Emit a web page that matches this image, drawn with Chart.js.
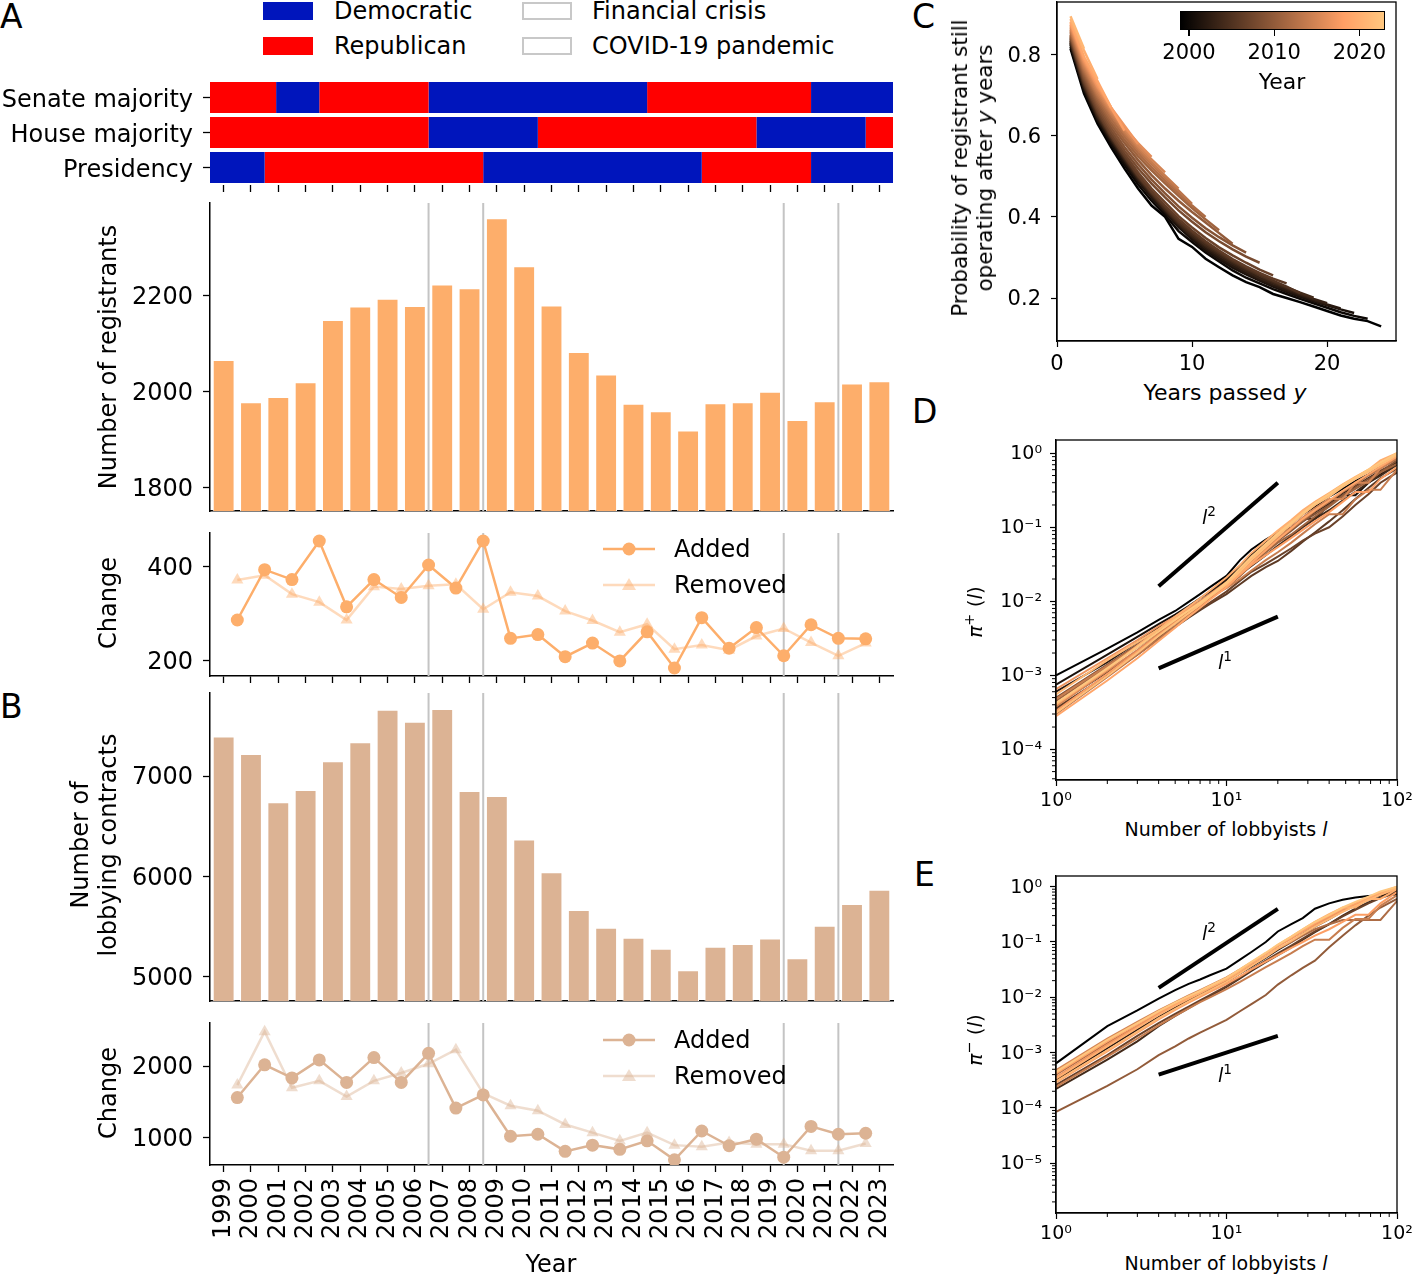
<!DOCTYPE html>
<html>
<head>
<meta charset="utf-8">
<title>Lobbying registrants and contracts</title>
<script src="https://cdn.jsdelivr.net/npm/chart.js@4.4.1/dist/chart.umd.min.js"></script>
<style>
  body { margin: 0; background: #fff; }
  #page { position: relative; width: 1412px; height: 1274px; overflow: hidden; font-family: 'DejaVu Sans', sans-serif; color: #000; }
  .plot { position: absolute; }
  .txt { position: absolute; white-space: nowrap; line-height: 1.2; transform: translate(0, -50%); }
  .ctr { position: absolute; white-space: nowrap; line-height: 1.2; transform: translate(-50%, -50%); text-align: center; }
  .vert { position: absolute; white-space: nowrap; line-height: 1.2; transform: translate(-50%, -50%) rotate(-90deg); text-align: center; }
  .letter { position: absolute; font-size: 33px; line-height: 1; }
  .patch { position: absolute; width: 50px; height: 18px; box-sizing: border-box; }
  sup { font-size: 0.72em; line-height: 0; }
</style>
</head>
<body>
<div id="page">
  <!-- panel letters -->
  <div class="letter" style="left:0;top:0">A</div>
  <div class="letter" style="left:0;top:690px">B</div>
  <div class="letter" style="left:912px;top:0">C</div>
  <div class="letter" style="left:912px;top:395px">D</div>
  <div class="letter" style="left:914px;top:858px">E</div>

  <!-- top legend -->
  <div class="patch" style="left:263px;top:2px;background:#0015bc"></div>
  <div class="patch" style="left:263px;top:37px;background:#ff0000"></div>
  <div class="patch" style="left:522px;top:2px;border:2px solid #c8c8c8"></div>
  <div class="patch" style="left:522px;top:37px;border:2px solid #c8c8c8"></div>
  <div class="txt" style="left:334px;top:11px;font-size:24px">Democratic</div>
  <div class="txt" style="left:334px;top:46px;font-size:24px">Republican</div>
  <div class="txt" style="left:592px;top:11px;font-size:24px">Financial crisis</div>
  <div class="txt" style="left:592px;top:46px;font-size:24px">COVID-19 pandemic</div>

  <!-- plot canvases -->
  <div class="plot" style="left:0;top:76px;width:900px;height:129px"><canvas id="majority"></canvas></div>
  <div class="plot" style="left:0;top:199px;width:900px;height:322px"><canvas id="registrants"></canvas></div>
  <div class="plot" style="left:0;top:526px;width:900px;height:170px"><canvas id="changeA"></canvas></div>
  <div class="plot" style="left:0;top:689px;width:900px;height:322px"><canvas id="contracts"></canvas></div>
  <div class="plot" style="left:0;top:1016px;width:900px;height:239px"><canvas id="changeB"></canvas></div>
  <div class="plot" style="left:905px;top:0;width:496px;height:371px"><canvas id="survival"></canvas></div>
  <div class="plot" style="left:905px;top:436px;width:507px;height:374px"><canvas id="growth"></canvas></div>
  <div class="plot" style="left:905px;top:872px;width:507px;height:371px"><canvas id="decline"></canvas></div>

  <!-- axis titles, left column -->
  <div class="vert" style="left:108px;top:357px;font-size:24px">Number of registrants</div>
  <div class="vert" style="left:108px;top:603px;font-size:24px">Change</div>
  <div class="vert" style="left:94px;top:845px;font-size:24px;line-height:28px">Number of<br>lobbying contracts</div>
  <div class="vert" style="left:108px;top:1093px;font-size:24px">Change</div>
  <div class="ctr" style="left:551px;top:1264px;font-size:24px">Year</div>

  <!-- change legends -->
  <svg class="plot" style="left:600px;top:535px" width="60" height="64">
    <line x1="3" y1="14" x2="55" y2="14" stroke="#fdae6b" stroke-width="2.5"/>
    <circle cx="29" cy="14" r="6.5" fill="#fdae6b"/>
    <line x1="3" y1="50" x2="55" y2="50" stroke="rgba(253,174,107,0.45)" stroke-width="2.5"/>
    <polygon points="29,43 36,55 22,55" fill="rgba(253,174,107,0.45)"/>
  </svg>
  <div class="txt" style="left:674px;top:549px;font-size:24px">Added</div>
  <div class="txt" style="left:674px;top:585px;font-size:24px">Removed</div>
  <svg class="plot" style="left:600px;top:1026px" width="60" height="64">
    <line x1="3" y1="14" x2="55" y2="14" stroke="#dcb394" stroke-width="2.5"/>
    <circle cx="29" cy="14" r="6.5" fill="#dcb394"/>
    <line x1="3" y1="50" x2="55" y2="50" stroke="rgba(220,179,148,0.45)" stroke-width="2.5"/>
    <polygon points="29,43 36,55 22,55" fill="rgba(220,179,148,0.45)"/>
  </svg>
  <div class="txt" style="left:674px;top:1040px;font-size:24px">Added</div>
  <div class="txt" style="left:674px;top:1076px;font-size:24px">Removed</div>

  <!-- panel C titles and colour bar -->
  <div class="vert" style="left:972px;top:168px;font-size:21.5px;line-height:25px">Probability of registrant still<br>operating after <i>y</i> years</div>
  <div class="ctr" style="left:1225px;top:393px;font-size:22px">Years passed <i>y</i></div>
  <div id="cbar" class="plot" style="left:1180px;top:11px;width:205px;height:19px;box-sizing:border-box;border:1px solid #000"></div>
  <div id="cbarTicks"></div>
  <div class="ctr" style="left:1282px;top:82px;font-size:22px">Year</div>

  <!-- panels D and E titles -->
  <div class="vert" style="left:975px;top:612px;font-size:20px"><i>π</i><sup>+</sup> (<i>l</i>)</div>
  <div class="ctr" style="left:1226px;top:829px;font-size:19px">Number of lobbyists <i>l</i></div>
  <div class="ctr" style="left:1209px;top:517px;font-size:19px"><i>l</i><sup>2</sup></div>
  <div class="ctr" style="left:1225px;top:662px;font-size:19px"><i>l</i><sup>1</sup></div>
  <div class="vert" style="left:975px;top:1040px;font-size:20px"><i>π</i><sup>−</sup> (<i>l</i>)</div>
  <div class="ctr" style="left:1226px;top:1263px;font-size:19px">Number of lobbyists <i>l</i></div>
  <div class="ctr" style="left:1209px;top:933px;font-size:19px"><i>l</i><sup>2</sup></div>
  <div class="ctr" style="left:1225px;top:1075px;font-size:19px"><i>l</i><sup>1</sup></div>
</div>

<script>
// ---- data ----
const years = [1999, 2000, 2001, 2002, 2003, 2004, 2005, 2006, 2007, 2008, 2009, 2010, 2011,
  2012, 2013, 2014, 2015, 2016, 2017, 2018, 2019, 2020, 2021, 2022, 2023];
const registrants = [2066, 1978, 1989, 2020, 2150, 2178, 2194, 2179, 2224, 2216, 2362, 2262, 2180,
  2083, 2036, 1975, 1959, 1919, 1976, 1978, 2000, 1941, 1980, 2017, 2022];
// changes between consecutive years (1999->2000 ... 2022->2023)
const addedRegistrants = [286, 393, 372, 454, 314, 372, 334, 403, 354, 454, 247, 255,
  208, 237, 199, 261, 184, 291, 226, 270, 210, 276, 247, 246];
const removedRegistrants = [371, 381, 341, 324, 286, 357, 352, 359, 362, 309, 345, 337,
  305, 285, 260, 277, 224, 233, 222, 252, 268, 238, 210, 237];
const contracts = [7393, 7220, 6740, 6860, 7147, 7337, 7660, 7540, 7667, 6850, 6800, 6367, 6043,
  5667, 5490, 5390, 5280, 5067, 5300, 5327, 5383, 5187, 5510, 5727, 5867];
const addedContracts = [1560, 2018, 1835, 2087, 1771, 2119, 1771, 2179, 1413, 1596, 1018, 1046,
  807, 894, 835, 954, 688, 1092, 885, 977, 725, 1156, 1046, 1060];
const removedContracts = [1734, 2482, 1697, 1794, 1573, 1794, 1904, 2032, 2229, 1619, 1445, 1376,
  1183, 1069, 954, 1069, 894, 872, 931, 908, 908, 817, 817, 917];

const registrantTicks = [1800, 2000, 2200];
const changeRegTicks = [200, 400];
const contractTicks = [5000, 6000, 7000];
const changeContractTicks = [1000, 2000];

const majorityLabels = ['Senate majority', 'House majority', 'Presidency'];
const senateBreaks = [1999, 2001.42, 2003, 2007, 2015, 2021, 2024];
const senateParty = ['R', 'D', 'R', 'D', 'R', 'D'];
const houseBreaks = [1999, 2007, 2011, 2019, 2023, 2024];
const houseParty = ['R', 'D', 'R', 'D', 'R'];
const presidencyBreaks = [1999, 2001, 2009, 2017, 2021, 2024];
const presidencyParty = ['D', 'R', 'D', 'R', 'D'];
const eventStarts = [2007, 2009, 2020, 2022]; // financial crisis, covid

// panel C: survival per registration cohort, y = 1, 2, ...
const survivalCohorts = [1999, 2000, 2001, 2002, 2003, 2004, 2005, 2006, 2007, 2008, 2009,
  2010, 2011, 2012, 2013, 2014, 2015, 2016, 2017, 2018, 2019, 2020, 2021];
const survivalCurves = [
  [0.815, 0.704, 0.630, 0.572, 0.519, 0.470, 0.428, 0.400, 0.346, 0.326, 0.297, 0.276, 0.256, 0.239, 0.227, 0.210, 0.200, 0.190, 0.179, 0.168, 0.157, 0.149, 0.143, 0.130],
  [0.820, 0.712, 0.638, 0.580, 0.528, 0.480, 0.440, 0.405, 0.365, 0.338, 0.312, 0.290, 0.268, 0.250, 0.236, 0.222, 0.210, 0.198, 0.187, 0.176, 0.165, 0.156, 0.149],
  [0.825, 0.715, 0.640, 0.585, 0.535, 0.488, 0.448, 0.412, 0.375, 0.345, 0.318, 0.296, 0.275, 0.258, 0.243, 0.228, 0.215, 0.203, 0.192, 0.182, 0.172, 0.163],
  [0.828, 0.720, 0.645, 0.590, 0.540, 0.492, 0.452, 0.415, 0.380, 0.350, 0.323, 0.300, 0.280, 0.262, 0.246, 0.232, 0.219, 0.207, 0.195, 0.184, 0.174],
  [0.830, 0.722, 0.648, 0.592, 0.542, 0.495, 0.455, 0.418, 0.383, 0.353, 0.327, 0.305, 0.285, 0.267, 0.250, 0.236, 0.223, 0.210, 0.198, 0.187],
  [0.833, 0.725, 0.650, 0.595, 0.545, 0.498, 0.458, 0.420, 0.386, 0.357, 0.331, 0.309, 0.289, 0.271, 0.255, 0.240, 0.226, 0.213, 0.201],
  [0.835, 0.728, 0.655, 0.598, 0.548, 0.500, 0.460, 0.424, 0.390, 0.362, 0.336, 0.313, 0.292, 0.274, 0.258, 0.243, 0.228, 0.212],
  [0.838, 0.732, 0.658, 0.600, 0.550, 0.503, 0.463, 0.428, 0.395, 0.366, 0.340, 0.317, 0.296, 0.278, 0.262, 0.248, 0.236],
  [0.840, 0.735, 0.662, 0.605, 0.556, 0.510, 0.470, 0.436, 0.402, 0.374, 0.348, 0.325, 0.305, 0.287, 0.270, 0.256],
  [0.843, 0.740, 0.668, 0.612, 0.563, 0.520, 0.482, 0.448, 0.416, 0.388, 0.362, 0.340, 0.320, 0.302, 0.287],
  [0.845, 0.745, 0.675, 0.620, 0.572, 0.530, 0.492, 0.458, 0.426, 0.398, 0.372, 0.350, 0.330, 0.312],
  [0.848, 0.750, 0.682, 0.628, 0.582, 0.540, 0.503, 0.470, 0.440, 0.412, 0.386, 0.360, 0.334],
  [0.850, 0.755, 0.688, 0.635, 0.590, 0.550, 0.515, 0.483, 0.452, 0.422, 0.394, 0.367],
  [0.855, 0.760, 0.695, 0.642, 0.598, 0.558, 0.522, 0.490, 0.458, 0.428, 0.400],
  [0.858, 0.765, 0.700, 0.650, 0.605, 0.565, 0.530, 0.497, 0.465, 0.432],
  [0.862, 0.770, 0.705, 0.655, 0.610, 0.570, 0.535, 0.502, 0.470],
  [0.866, 0.775, 0.712, 0.660, 0.615, 0.575, 0.542, 0.510],
  [0.870, 0.780, 0.718, 0.665, 0.620, 0.582, 0.548],
  [0.874, 0.785, 0.722, 0.670, 0.625, 0.580],
  [0.878, 0.790, 0.728, 0.670, 0.613],
  [0.882, 0.795, 0.735, 0.670],
  [0.888, 0.810, 0.740],
  [0.895, 0.815]
];
const colorbarRange = [1999, 2023];
const colorbarTicks = [2000, 2010, 2020];

// panels D and E: cumulative distributions over number of lobbyists
const lobbyistGrid = [1, 2, 3, 4, 5, 6, 7, 8, 10, 12, 14, 17, 20, 24, 28, 33, 40, 48, 57, 68, 80, 100];
const growthCohorts = [1999, 2001, 2002, 2004, 2006, 2007, 2009, 2011, 2013, 2014, 2015, 2017, 2018, 2019, 2020, 2021, 2022, 2023];
const growthCurves = [
  [1.0e-3, 2.3e-3, 3.8e-3, 5.6e-3, 7.4e-3, 9.8e-3, 1.25e-2, 1.55e-2, 2.2e-2, 3.6e-2, 5.0e-2, 6.8e-2, 8.5e-2, 0.11, 0.15, 0.19, 0.26, 0.33, 0.42, 0.52, 0.66, 0.85],
  [7.5e-4, 1.9e-3, 3.3e-3, 4.9e-3, 6.6e-3, 8.6e-3, 1.1e-2, 1.35e-2, 2.0e-2, 2.9e-2, 4.3e-2, 6.2e-2, 8.0e-2, 0.10, 0.13, 0.13, 0.20, 0.27, 0.27, 0.40, 0.52, 0.70],
  [6.0e-4, 1.5e-3, 2.8e-3, 4.4e-3, 6.2e-3, 8.0e-3, 1.0e-2, 1.25e-2, 1.9e-2, 2.7e-2, 3.6e-2, 5.2e-2, 7.0e-2, 9.5e-2, 0.12, 0.16, 0.21, 0.29, 0.36, 0.46, 0.58, 0.75],
  [4.0e-4, 1.1e-3, 2.1e-3, 3.4e-3, 5.0e-3, 6.8e-3, 8.6e-3, 1.1e-2, 1.6e-2, 2.3e-2, 3.0e-2, 4.2e-2, 5.6e-2, 7.6e-2, 0.10, 0.13, 0.17, 0.23, 0.30, 0.40, 0.50, 0.70],
  [3.6e-4, 1.0e-3, 1.9e-3, 3.1e-3, 4.5e-3, 6.0e-3, 7.6e-3, 9.2e-3, 1.25e-2, 1.7e-2, 2.2e-2, 2.9e-2, 3.5e-2, 4.8e-2, 6.4e-2, 8.5e-2, 0.12, 0.17, 0.24, 0.34, 0.46, 0.62],
  [3.4e-4, 1.0e-3, 2.0e-3, 3.2e-3, 4.6e-3, 6.2e-3, 7.8e-3, 9.6e-3, 1.35e-2, 1.9e-2, 2.5e-2, 3.2e-2, 4.0e-2, 5.2e-2, 6.6e-2, 8.2e-2, 0.10, 0.14, 0.20, 0.28, 0.40, 0.55],
  [5.0e-4, 1.4e-3, 2.6e-3, 4.1e-3, 5.8e-3, 7.6e-3, 9.6e-3, 1.2e-2, 1.7e-2, 2.6e-2, 3.5e-2, 5.0e-2, 6.6e-2, 9.0e-2, 0.12, 0.15, 0.20, 0.27, 0.35, 0.45, 0.56, 0.80],
  [4.5e-4, 1.3e-3, 2.4e-3, 3.8e-3, 5.4e-3, 7.2e-3, 9.0e-3, 1.1e-2, 1.55e-2, 2.2e-2, 3.1e-2, 4.6e-2, 6.2e-2, 8.0e-2, 0.105, 0.14, 0.19, 0.26, 0.33, 0.42, 0.55, 0.72],
  [3.0e-4, 9.5e-4, 1.9e-3, 3.1e-3, 4.6e-3, 6.4e-3, 8.5e-3, 1.08e-2, 1.6e-2, 2.4e-2, 3.4e-2, 5.0e-2, 6.8e-2, 9.4e-2, 0.125, 0.165, 0.22, 0.30, 0.38, 0.50, 0.62, 0.85],
  [4.8e-4, 1.35e-3, 2.5e-3, 3.9e-3, 5.5e-3, 7.3e-3, 9.2e-3, 1.15e-2, 1.5e-2, 2.0e-2, 2.6e-2, 3.6e-2, 4.6e-2, 6.2e-2, 8.2e-2, 0.11, 0.15, 0.15, 0.24, 0.32, 0.32, 0.60],
  [3.8e-4, 1.15e-3, 2.2e-3, 3.6e-3, 5.2e-3, 7.0e-3, 9.0e-3, 1.15e-2, 1.7e-2, 2.5e-2, 3.6e-2, 5.3e-2, 7.2e-2, 0.10, 0.135, 0.18, 0.24, 0.24, 0.40, 0.40, 0.62, 0.90],
  [6.5e-4, 1.7e-3, 3.0e-3, 4.6e-3, 6.2e-3, 8.0e-3, 1.0e-2, 1.25e-2, 1.8e-2, 2.7e-2, 3.9e-2, 5.8e-2, 8.0e-2, 0.11, 0.15, 0.20, 0.27, 0.36, 0.46, 0.58, 0.72, 1.0],
  [3.3e-4, 1.05e-3, 2.1e-3, 3.5e-3, 5.1e-3, 6.9e-3, 9.0e-3, 1.15e-2, 1.65e-2, 2.3e-2, 3.1e-2, 4.2e-2, 5.4e-2, 7.2e-2, 9.2e-2, 0.12, 0.16, 0.22, 0.30, 0.30, 0.45, 0.65],
  [2.8e-4, 8.5e-4, 1.7e-3, 2.9e-3, 4.4e-3, 6.2e-3, 8.2e-3, 1.05e-2, 1.55e-2, 2.3e-2, 3.3e-2, 4.9e-2, 6.8e-2, 9.6e-2, 0.13, 0.17, 0.23, 0.31, 0.40, 0.52, 0.66, 0.90],
  [4.0e-4, 1.2e-3, 2.5e-3, 4.2e-3, 6.2e-3, 8.4e-3, 1.1e-2, 1.4e-2, 2.1e-2, 3.1e-2, 4.5e-2, 6.6e-2, 9.0e-2, 0.125, 0.17, 0.22, 0.29, 0.38, 0.48, 0.60, 0.80, 1.0],
  [5.5e-4, 1.6e-3, 2.8e-3, 4.2e-3, 5.8e-3, 7.6e-3, 9.5e-3, 1.2e-2, 1.75e-2, 2.6e-2, 3.8e-2, 5.8e-2, 8.4e-2, 0.12, 0.16, 0.21, 0.28, 0.37, 0.46, 0.58, 0.75, 0.98],
  [3.1e-4, 9.8e-4, 2.0e-3, 3.4e-3, 5.0e-3, 6.9e-3, 9.0e-3, 1.15e-2, 1.7e-2, 2.5e-2, 3.6e-2, 5.4e-2, 7.6e-2, 0.11, 0.15, 0.20, 0.26, 0.35, 0.45, 0.56, 0.70, 0.95],
  [4.2e-4, 1.25e-3, 2.4e-3, 3.9e-3, 5.6e-3, 7.5e-3, 9.6e-3, 1.2e-2, 1.8e-2, 2.8e-2, 4.0e-2, 6.0e-2, 8.2e-2, 0.115, 0.155, 0.21, 0.28, 0.37, 0.47, 0.60, 0.75, 1.0]
];
const declineCohorts = [1999, 2002, 2004, 2007, 2010, 2012, 2014, 2015, 2017, 2018, 2019, 2020, 2021, 2023];
const declineCurves = [
  [6.4e-4, 3.0e-3, 5.8e-3, 9.5e-3, 1.35e-2, 1.75e-2, 2.1e-2, 2.5e-2, 3.3e-2, 4.8e-2, 6.6e-2, 0.10, 0.155, 0.21, 0.27, 0.40, 0.50, 0.58, 0.64, 0.68, 0.70, 0.72],
  [3.2e-4, 1.2e-3, 2.6e-3, 4.4e-3, 6.5e-3, 8.8e-3, 1.1e-2, 1.35e-2, 1.9e-2, 2.7e-2, 3.6e-2, 5.2e-2, 7.2e-2, 0.10, 0.14, 0.19, 0.26, 0.36, 0.46, 0.58, 0.70, 0.85],
  [2.2e-4, 7.5e-4, 1.6e-3, 3.0e-3, 4.6e-3, 6.4e-3, 8.4e-3, 1.05e-2, 1.55e-2, 2.2e-2, 3.0e-2, 4.3e-2, 5.8e-2, 8.0e-2, 0.11, 0.15, 0.21, 0.30, 0.40, 0.52, 0.64, 0.80],
  [2.6e-4, 9.0e-4, 2.0e-3, 3.4e-3, 5.0e-3, 6.8e-3, 8.8e-3, 1.1e-2, 1.6e-2, 2.3e-2, 3.2e-2, 4.6e-2, 6.2e-2, 8.6e-2, 0.115, 0.155, 0.21, 0.29, 0.38, 0.50, 0.62, 0.78],
  [8.5e-5, 2.5e-4, 5.0e-4, 9.0e-4, 1.3e-3, 1.8e-3, 2.3e-3, 2.8e-3, 3.9e-3, 5.6e-3, 7.5e-3, 1.1e-2, 1.7e-2, 2.5e-2, 3.4e-2, 4.6e-2, 8.0e-2, 0.13, 0.20, 0.30, 0.42, 0.60],
  [4.0e-4, 1.5e-3, 3.0e-3, 5.0e-3, 7.2e-3, 9.6e-3, 1.2e-2, 1.45e-2, 2.0e-2, 2.8e-2, 3.8e-2, 5.4e-2, 7.5e-2, 0.10, 0.13, 0.17, 0.21, 0.25, 0.25, 0.25, 0.25, 0.55],
  [2.4e-4, 8.5e-4, 1.8e-3, 3.1e-3, 4.6e-3, 6.3e-3, 8.2e-3, 1.0e-2, 1.4e-2, 1.9e-2, 2.5e-2, 3.5e-2, 4.6e-2, 6.3e-2, 8.4e-2, 0.11, 0.11, 0.18, 0.26, 0.26, 0.45, 0.70],
  [4.8e-4, 1.8e-3, 3.6e-3, 5.8e-3, 8.2e-3, 1.08e-2, 1.35e-2, 1.65e-2, 2.3e-2, 3.2e-2, 4.3e-2, 6.2e-2, 8.6e-2, 0.12, 0.16, 0.21, 0.29, 0.38, 0.48, 0.60, 0.74, 0.95],
  [3.6e-4, 1.4e-3, 3.0e-3, 5.0e-3, 7.2e-3, 9.6e-3, 1.2e-2, 1.5e-2, 2.1e-2, 3.0e-2, 4.1e-2, 6.0e-2, 8.4e-2, 0.115, 0.155, 0.205, 0.28, 0.37, 0.47, 0.58, 0.72, 0.92],
  [2.9e-4, 1.05e-3, 2.3e-3, 4.0e-3, 5.9e-3, 8.0e-3, 1.02e-2, 1.25e-2, 1.75e-2, 2.4e-2, 3.2e-2, 4.4e-2, 5.8e-2, 7.8e-2, 0.10, 0.13, 0.17, 0.23, 0.31, 0.31, 0.50, 0.80],
  [4.2e-4, 1.6e-3, 3.3e-3, 5.4e-3, 7.6e-3, 1.0e-2, 1.28e-2, 1.58e-2, 2.2e-2, 3.1e-2, 4.2e-2, 6.1e-2, 8.5e-2, 0.12, 0.16, 0.22, 0.30, 0.40, 0.50, 0.62, 0.78, 1.0],
  [3.4e-4, 1.3e-3, 2.8e-3, 4.8e-3, 7.0e-3, 9.4e-3, 1.2e-2, 1.5e-2, 2.1e-2, 3.0e-2, 4.2e-2, 6.2e-2, 8.8e-2, 0.125, 0.17, 0.23, 0.32, 0.42, 0.42, 0.60, 0.60, 0.90],
  [3.0e-4, 1.1e-3, 2.4e-3, 4.2e-3, 6.2e-3, 8.4e-3, 1.08e-2, 1.34e-2, 1.9e-2, 2.7e-2, 3.7e-2, 5.4e-2, 7.6e-2, 0.105, 0.14, 0.19, 0.26, 0.35, 0.45, 0.57, 0.72, 0.95],
  [4.5e-4, 1.7e-3, 3.4e-3, 5.6e-3, 8.0e-3, 1.05e-2, 1.3e-2, 1.6e-2, 2.25e-2, 3.2e-2, 4.4e-2, 6.4e-2, 9.0e-2, 0.125, 0.17, 0.23, 0.31, 0.42, 0.53, 0.66, 0.82, 1.0]
];
// guide lines l^2 and l^1
const guideL = [4, 20];
const guideSquareD = [0.016, 0.4];
const guideLinearD = [1.24e-3, 6.2e-3];
const guideSquareE = [0.0148, 0.396];
const guideLinearE = [4.0e-4, 2.0e-3];

// ---- helpers ----
Chart.defaults.font.family = "'DejaVu Sans', sans-serif";
Chart.defaults.color = '#000';
Chart.defaults.animation = false;

const LEFT = 210;
const partyColor = { D: '#0015bc', R: '#ff0000' };

function fixSize(size) {
  return function (scale) {
    if (scale.isHorizontal()) scale.height = size;
    else scale.width = size;
    scale.paddingLeft = 0; scale.paddingRight = 0;
    scale.paddingTop = 0; scale.paddingBottom = 0;
  };
}

function copper(year) {
  const t = (year - colorbarRange[0]) / (colorbarRange[1] - colorbarRange[0]);
  const r = Math.min(1, 1.25 * t), g = 0.7812 * t, b = 0.4975 * t;
  return `rgb(${Math.round(r * 255)},${Math.round(g * 255)},${Math.round(b * 255)})`;
}

const SUP = { '-': '⁻', '0': '⁰', '1': '¹', '2': '²', '3': '³', '4': '⁴', '5': '⁵', '6': '⁶' };
function powerLabel(v) {
  const e = String(Math.round(Math.log10(v)));
  return '10' + e.split('').map(c => SUP[c]).join('');
}

function yearAxis(height, marks, spine, labels) {
  return {
    type: 'linear', min: 1999, max: 2024, offset: false,
    afterBuildTicks: s => { s.ticks = years.map(y => ({ value: y + 0.5 })); },
    afterFit: fixSize(height),
    border: { display: spine, color: '#000', width: 1.5 },
    grid: { display: true, drawOnChartArea: false, drawTicks: marks, tickLength: 7, tickColor: '#000', tickWidth: 1.3, offset: false },
    ticks: { display: !!labels, autoSkip: false, minRotation: 90, maxRotation: 90, padding: 6, font: { size: 24 }, color: '#000',
      callback: v => String(v - 0.5) }
  };
}

function valueAxis(min, max, tickValues) {
  return {
    type: 'linear', min: min, max: max,
    afterBuildTicks: s => { s.ticks = tickValues.map(v => ({ value: v })); },
    afterFit: fixSize(LEFT),
    border: { color: '#000', width: 1.5 },
    grid: { drawOnChartArea: false, tickLength: 7, tickColor: '#000', tickWidth: 1.3 },
    ticks: { padding: 10, labelOffset: 2, font: { size: 24 }, color: '#000', callback: v => String(v) }
  };
}

function baseOptions(scales, padTop, padRight) {
  return {
    responsive: true, maintainAspectRatio: false, animation: false, events: [],
    layout: { padding: { top: padTop, right: padRight, left: 0, bottom: 0 } },
    plugins: { legend: { display: false }, tooltip: { enabled: false } },
    scales: scales
  };
}

const eventLines = {
  id: 'eventLines',
  beforeDatasetsDraw(chart) {
    const { ctx, chartArea, scales } = chart;
    ctx.save();
    ctx.strokeStyle = '#c4c4c4';
    ctx.lineWidth = 2;
    eventStarts.forEach(v => {
      const px = scales.x.getPixelForValue(v);
      ctx.beginPath();
      ctx.moveTo(px, chartArea.top);
      ctx.lineTo(px, chartArea.bottom);
      ctx.stroke();
    });
    ctx.restore();
  }
};

const frame = {
  id: 'frame',
  afterDatasetsDraw(chart) {
    const { ctx, chartArea: a } = chart;
    ctx.save();
    ctx.strokeStyle = '#000';
    ctx.lineWidth = 1.3;
    ctx.strokeRect(a.left, a.top, a.right - a.left, a.bottom - a.top);
    ctx.restore();
  }
};

const logMinorTicks = {
  id: 'logMinorTicks',
  afterDraw(chart) {
    const { ctx, chartArea: a, scales } = chart;
    ctx.save();
    ctx.strokeStyle = '#000';
    ctx.lineWidth = 1;
    [scales.x, scales.y].forEach(s => {
      const lo = Math.floor(Math.log10(s.min)), hi = Math.ceil(Math.log10(s.max));
      for (let d = lo; d < hi; d++) {
        for (let k = 2; k < 10; k++) {
          const v = k * Math.pow(10, d);
          if (v < s.min || v > s.max) continue;
          const p = s.getPixelForValue(v);
          ctx.beginPath();
          if (s.isHorizontal()) { ctx.moveTo(p, a.bottom); ctx.lineTo(p, a.bottom + 4); }
          else { ctx.moveTo(a.left, p); ctx.lineTo(a.left - 4, p); }
          ctx.stroke();
        }
      }
    });
    ctx.restore();
  }
};

// ---- A: majorities ----
const majorityRows = [
  { breaks: senateBreaks, party: senateParty },
  { breaks: houseBreaks, party: houseParty },
  { breaks: presidencyBreaks, party: presidencyParty }
];
const majorityDatasets = [];
for (let k = 0; k < senateParty.length; k++) {
  majorityDatasets.push({
    data: majorityRows.map(r => k < r.party.length ? [r.breaks[k], r.breaks[k + 1]] : null),
    backgroundColor: majorityRows.map(r => partyColor[r.party[k]] || 'rgba(0,0,0,0)'),
    grouped: false, barPercentage: 0.886, categoryPercentage: 1, borderWidth: 0
  });
}
const majorityOpts = baseOptions({
  x: yearAxis(20, true, false, false),
  y: {
    type: 'category', offset: true, afterFit: fixSize(LEFT),
    border: { display: false },
    grid: { drawOnChartArea: false, tickLength: 7, tickColor: '#000', tickWidth: 1.3, offset: false },
    ticks: { padding: 10, labelOffset: 3, font: { size: 24 }, color: '#000' }
  }
}, 4, 7);
majorityOpts.indexAxis = 'y';
new Chart(document.getElementById('majority'), {
  type: 'bar',
  data: { labels: majorityLabels, datasets: majorityDatasets },
  options: majorityOpts
});

// ---- A: registrants ----
new Chart(document.getElementById('registrants'), {
  type: 'bar',
  data: {
    datasets: [{
      data: years.map((y, i) => ({ x: y + 0.5, y: registrants[i] })),
      backgroundColor: '#fdae6b', borderColor: '#ffffff', borderWidth: 1,
      barPercentage: 0.8, categoryPercentage: 1
    }]
  },
  options: baseOptions({ x: yearAxis(10, false, true, false), y: valueAxis(1751, 2394, registrantTicks) }, 4, 7),
  plugins: [eventLines]
});

function changeDatasets(added, removed, rgb) {
  return [
    {
      data: added.map((v, i) => ({ x: years[i + 1], y: v })),
      borderColor: `rgb(${rgb})`, backgroundColor: `rgb(${rgb})`, borderWidth: 2.5,
      pointStyle: 'circle', pointRadius: 6.5, pointBorderWidth: 0, tension: 0, order: 1
    },
    {
      data: removed.map((v, i) => ({ x: years[i + 1], y: v })),
      borderColor: `rgba(${rgb},0.45)`, backgroundColor: `rgba(${rgb},0.45)`, borderWidth: 2.5,
      pointStyle: 'triangle', pointRadius: 7, pointBorderWidth: 0, tension: 0, order: 0
    }
  ];
}

// ---- A: change ----
new Chart(document.getElementById('changeA'), {
  type: 'line',
  data: { datasets: changeDatasets(addedRegistrants, removedRegistrants, '253,174,107') },
  options: baseOptions({ x: yearAxis(20, true, true, false), y: valueAxis(167, 471, changeRegTicks) }, 4, 7),
  plugins: [eventLines]
});

// ---- B: contracts ----
new Chart(document.getElementById('contracts'), {
  type: 'bar',
  data: {
    datasets: [{
      data: years.map((y, i) => ({ x: y + 0.5, y: contracts[i] })),
      backgroundColor: '#dcb394', borderColor: '#ffffff', borderWidth: 1,
      barPercentage: 0.8, categoryPercentage: 1
    }]
  },
  options: baseOptions({ x: yearAxis(10, false, true, false), y: valueAxis(4761, 7826, contractTicks) }, 4, 7),
  plugins: [eventLines]
});

// ---- B: change ----
new Chart(document.getElementById('changeB'), {
  type: 'line',
  data: { datasets: changeDatasets(addedContracts, removedContracts, '220,179,148') },
  options: baseOptions({ x: yearAxis(90, true, true, true), y: valueAxis(616, 2603, changeContractTicks) }, 4, 7),
  plugins: [eventLines]
});

// ---- C: survival ----
new Chart(document.getElementById('survival'), {
  type: 'line',
  data: {
    datasets: survivalCurves.map((vals, i) => ({
      data: vals.map((v, j) => ({ x: j + 1, y: v })),
      borderColor: copper(survivalCohorts[i]), borderWidth: 2.5, pointRadius: 0, tension: 0,
      order: survivalCurves.length - i
    }))
  },
  options: baseOptions({
    x: {
      type: 'linear', min: 0, max: 25.1,
      afterBuildTicks: s => { s.ticks = [0, 10, 20].map(v => ({ value: v })); },
      afterFit: fixSize(30),
      border: { color: '#000', width: 1.3 },
      grid: { drawOnChartArea: false, tickLength: 6, tickColor: '#000', tickWidth: 1.2 },
      ticks: { padding: 5, font: { size: 21 }, color: '#000', callback: v => String(v) }
    },
    y: {
      type: 'linear', min: 0.094, max: 0.93,
      afterBuildTicks: s => { s.ticks = [0.2, 0.4, 0.6, 0.8].map(v => ({ value: v })); },
      afterFit: fixSize(152),
      border: { color: '#000', width: 1.3 },
      grid: { drawOnChartArea: false, tickLength: 6, tickColor: '#000', tickWidth: 1.2 },
      ticks: { padding: 10, labelOffset: 2, font: { size: 21 }, color: '#000', callback: v => v.toFixed(1) }
    }
  }, 2, 5),
  plugins: [frame]
});

// colour bar
const cbar = document.getElementById('cbar');
cbar.style.background = `linear-gradient(to right, ${copper(1999)} 0%, ${copper(1999 + 0.8 * 24)} 80%, ${copper(2023)} 100%)`;
const cbarLeft = 1180.5, cbarWidth = 204.5;
let cbHtml = '';
colorbarTicks.forEach(t => {
  const x = cbarLeft + (t - colorbarRange[0]) / (colorbarRange[1] - colorbarRange[0]) * cbarWidth;
  cbHtml += `<div class="plot" style="left:${x - 0.6}px;top:30px;width:1.2px;height:6px;background:#000"></div>`;
  cbHtml += `<div class="ctr" style="left:${x}px;top:53px;font-size:21px">${t}</div>`;
});
document.getElementById('cbarTicks').innerHTML = cbHtml;

// ---- D and E: log-log ----
function logChart(id, cohorts, curves, yMin, yMax, yTicks, guideSquare, guideLinear) {
  const datasets = curves.map((vals, i) => ({
    data: vals.map((v, j) => ({ x: lobbyistGrid[j], y: v })),
    borderColor: copper(cohorts[i]), borderWidth: 2, pointRadius: 0, tension: 0,
    order: curves.length - i + 2
  }));
  [guideSquare, guideLinear].forEach(g => {
    datasets.push({
      data: guideL.map((l, j) => ({ x: l, y: g[j] })),
      borderColor: '#000', borderWidth: 4, pointRadius: 0, order: 0
    });
  });
  new Chart(document.getElementById(id), {
    type: 'line',
    data: { datasets: datasets },
    options: baseOptions({
      x: {
        type: 'logarithmic', min: 1, max: 100,
        afterBuildTicks: s => { s.ticks = [1, 10, 100].map(v => ({ value: v })); },
        afterFit: fixSize(30),
        border: { color: '#000', width: 1.3 },
        grid: { drawOnChartArea: false, tickLength: 6, tickColor: '#000', tickWidth: 1.2 },
        ticks: { padding: 4, font: { size: 19 }, color: '#000', callback: powerLabel }
      },
      y: {
        type: 'logarithmic', min: yMin, max: yMax,
        afterBuildTicks: s => { s.ticks = yTicks.map(v => ({ value: v })); },
        afterFit: fixSize(151),
        border: { color: '#000', width: 1.3 },
        grid: { drawOnChartArea: false, tickLength: 6, tickColor: '#000', tickWidth: 1.2 },
        ticks: { padding: 8, labelOffset: 1, font: { size: 19 }, color: '#000', callback: powerLabel }
      }
    }, 4, 15),
    plugins: [frame, logMinorTicks]
  });
}

logChart('growth', growthCohorts, growthCurves, 3.85e-5, 1.51, [1e-4, 1e-3, 1e-2, 1e-1, 1],
  guideSquareD, guideLinearD);
logChart('decline', declineCohorts, declineCurves, 1.26e-6, 1.56, [1e-5, 1e-4, 1e-3, 1e-2, 1e-1, 1],
  guideSquareE, guideLinearE);
</script>
</body>
</html>
